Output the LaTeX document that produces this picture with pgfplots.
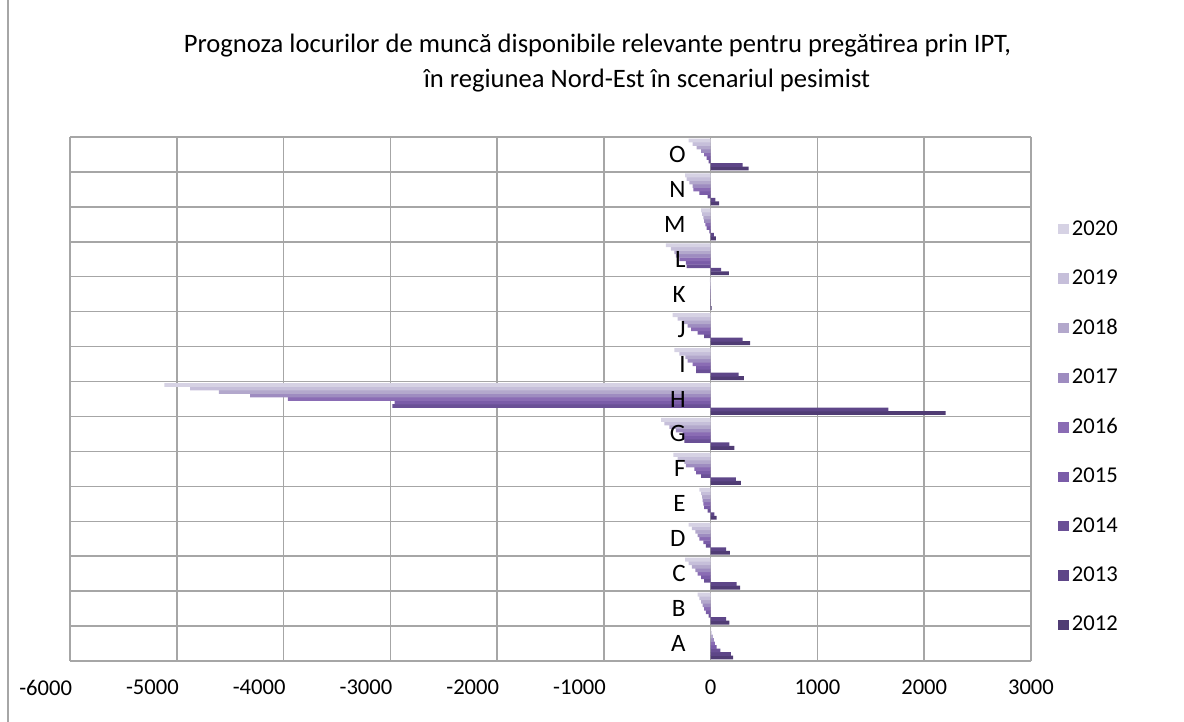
\documentclass[border=0pt]{standalone}
\usepackage{pgfplots}
\pgfplotsset{compat=1.18}
\usepackage{pgfplotstable}
\usepackage{fontspec}
\setmainfont{Carlito}

\definecolor{gridgray}{HTML}{A6A6A6}
\definecolor{txt}{HTML}{262626}
\definecolor{c2012}{HTML}{503C74}
\definecolor{c2013}{HTML}{5E4688}
\definecolor{c2014}{HTML}{6A5096}
\definecolor{c2015}{HTML}{7A5CA8}
\definecolor{c2016}{HTML}{8A6CB4}
\definecolor{c2017}{HTML}{9E8CC0}
\definecolor{c2018}{HTML}{B3A8CC}
\definecolor{c2019}{HTML}{C6BFDA}
\definecolor{c2020}{HTML}{D6D2E4}

\newcommand{\neglab}[1]{\hspace*{2pt}\llap{#1}}

\pgfplotsset{
  sqlegend/.style={legend image code/.code={\fill[##1] (0pt,-2.6pt) rectangle (5.2pt,2.6pt); \path (5.8pt,0pt);}},
  % tick labels above the bars (the H label sits on them)
  layers/labelstop/.define layer set={
    axis background,axis grid,axis ticks,axis lines,pre main,main,axis tick labels,axis descriptions,axis foreground
  }{
    grid style={/pgfplots/on layer=axis grid},
    tick style={/pgfplots/on layer=axis ticks},
    axis line style={/pgfplots/on layer=axis lines},
    label style={/pgfplots/on layer=axis descriptions},
    legend style={/pgfplots/on layer=axis descriptions},
    title style={/pgfplots/on layer=axis descriptions},
    ticklabel style={/pgfplots/on layer=axis tick labels},
  },
}

% categories A..O at 0..14
\pgfplotstableread{
idx y12  y13  y14   y15   y16   y17   y18   y19   y20
0   210  190  90    55    40    30    20    10    5
1   175  144  -19   -44   -60   -75   -90   -106  -122
2   275  244  -60   -90   -122  -144  -175  -206  -238
3   181  144  -44   -69   -106  -122  -144  -175  -206
4   56   34   -28   -60   -69   -75   -81   -90   -106
5   284  237  -90   -137  -153  -231  -247  -310  -350
6   222  175  -247  -262  -262  -325  -387  -434  -465
7   2200 1665 -2980 -2960 -3960 -4312 -4606 -4875 -5115
8   310  262  -137  -137  -169  -215  -237  -294  -340
9   370  300  -60   -122  -184  -215  -262  -310  -356
10  8    3    -2    -3    -3    -4    -5    -6    -8
11  170  97   -225  -231  -294  -325  -340  -372  -419
12  50   30   -12   -37   -50   -62   -69   -80   -90
13  80   44   -28   -106  -162  -169  -200  -225  -238
14  356  300  -19   -37   -60   -90   -131  -169  -206
}\jobs

\begin{document}
\begin{tikzpicture}[font=\color{txt}]
\begin{axis}[
    set layers=labelstop,
    at={(0,0)}, anchor=south west,
    scale only axis, width=480.5pt, height=262pt,
    xmin=-6000, xmax=3000, ymin=-0.5, ymax=14.5,
    xtick={-6000,-5000,...,3000},
    xticklabels={\neglab{-6000},\neglab{-5000},\neglab{-4000},\neglab{-3000},\neglab{-2000},\neglab{-1000},0,1000,2000,3000},
    ytick={0,...,14},
    yticklabels={A,B,C,D,E,F,G,H,I,J,K,L,M,N,O},
    minor ytick={-0.5,0.5,...,14.5},
    xmajorgrids, yminorgrids,
    grid style={draw=gridgray, line width=0.75pt},
    axis x line*=bottom, axis y line*=middle,
    axis line style={draw=gridgray, line width=0.75pt},
    hide obscured x ticks=false, hide obscured y ticks=false,
    major tick length=0pt, minor tick length=0pt,
    xticklabel style={font=\fontsize{11.3}{13}\selectfont, yshift=-6pt},
    yticklabel style={font=\fontsize{12.5}{14}\selectfont, xshift=-9pt},
    xbar=-0.2pt, bar width=1.95pt,
    reverse legend,
    legend cell align=left,
    legend style={at={(1,0.5)}, anchor=west, xshift=13.5pt, yshift=-14pt,
        draw=none, fill=none, inner sep=0pt, row sep=13.8pt,
        font=\fontsize{11.3}{13}\selectfont, nodes={inner sep=1pt}},
]
\addplot[fill=c2012, draw=none, sqlegend] table[x=y12, y=idx] {\jobs};
\addplot[fill=c2013, draw=none, sqlegend] table[x=y13, y=idx] {\jobs};
\addplot[fill=c2014, draw=none, sqlegend] table[x=y14, y=idx] {\jobs};
\addplot[fill=c2015, draw=none, sqlegend] table[x=y15, y=idx] {\jobs};
\addplot[fill=c2016, draw=none, sqlegend] table[x=y16, y=idx] {\jobs};
\addplot[fill=c2017, draw=none, sqlegend] table[x=y17, y=idx] {\jobs};
\addplot[fill=c2018, draw=none, sqlegend] table[x=y18, y=idx] {\jobs};
\addplot[fill=c2019, draw=none, sqlegend] table[x=y19, y=idx] {\jobs};
\addplot[fill=c2020, draw=none, sqlegend] table[x=y20, y=idx] {\jobs};
\legend{2012,2013,2014,2015,2016,2017,2018,2019,2020}
\end{axis}
\node[anchor=base, font=\fontsize{13.3}{15}\selectfont] at (263.75pt,304pt)
    {Prognoza locurilor de muncă disponibile relevante pentru pregătirea prin IPT,};
\node[anchor=base, font=\fontsize{13.3}{15}\selectfont] at (288.5pt,286.5pt)
    {în regiunea Nord-Est în scenariul pesimist};
\draw[gridgray, line width=1pt] (-31pt,-30.5pt) -- (-31pt,330.5pt);
\pgfresetboundingbox
\path[use as bounding box] (-35pt,-30.5pt) rectangle (557pt,330.5pt);
\end{tikzpicture}
\end{document}
